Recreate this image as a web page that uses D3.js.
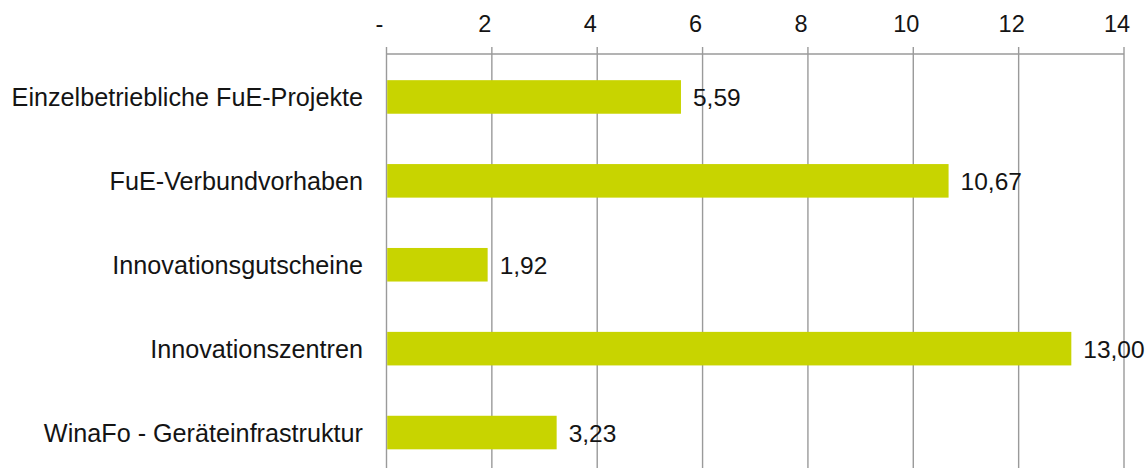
<!DOCTYPE html>
<html>
<head>
<meta charset="utf-8">
<script src="https://cdn.jsdelivr.net/npm/d3@7"></script>
<style>
  html, body { margin: 0; padding: 0; background: #ffffff; }
  svg { display: block; }
  text { font-family: "Liberation Sans", Arial, sans-serif; fill: #141414; }
</style>
</head>
<body>
<svg id="chart" width="1147" height="468"></svg>
<script>
// Förderprogramme und Werte (Mio. Euro)
const categories = [
  "Einzelbetriebliche FuE-Projekte",
  "FuE-Verbundvorhaben",
  "Innovationsgutscheine",
  "Innovationszentren",
  "WinaFo - Geräteinfrastruktur"
];
const values = [5.59, 10.67, 1.92, 13.00, 3.23];
const tickValues = [0, 2, 4, 6, 8, 10, 12, 14];
const tickLabels = ["-", "2", "4", "6", "8", "10", "12", "14"];

const svg = d3.select("#chart");
const W = 1147, H = 468;
const left = 386.5, right = 1124, axisY = 54, plotBottom = 474.5;

const x = d3.scaleLinear().domain([0, 14]).range([left, right]);
const y = d3.scaleBand()
  .domain(categories)
  .range([axisY + 1, plotBottom])
  .paddingInner(0.6)
  .paddingOuter(0.3);

const fmt = v => v.toFixed(2).replace(".", ",");
const gridColor = "#9a9a9a";

// vertical gridlines
svg.append("g")
  .selectAll("line")
  .data(tickValues)
  .join("line")
  .attr("x1", d => x(d)).attr("x2", d => x(d))
  .attr("y1", axisY - 7).attr("y2", H)
  .attr("stroke", gridColor)
  .attr("stroke-width", 1.4);

// top axis line
svg.append("line")
  .attr("x1", x(0)).attr("x2", x(14))
  .attr("y1", axisY).attr("y2", axisY)
  .attr("stroke", gridColor)
  .attr("stroke-width", 1.4);

// tick labels
svg.append("g")
  .selectAll("text")
  .data(tickValues)
  .join("text")
  .attr("x", d => x(d) - 7)
  .attr("y", 32)
  .attr("text-anchor", "middle")
  .style("font-size", "23.5px")
  .text((d, i) => tickLabels[i]);

// bars
svg.append("g")
  .selectAll("rect")
  .data(values)
  .join("rect")
  .attr("x", x(0) + 0.7)
  .attr("y", (d, i) => y(categories[i]))
  .attr("width", d => x(d) - x(0) - 0.7)
  .attr("height", y.bandwidth())
  .attr("fill", "#c8d400");

// value labels
svg.append("g")
  .selectAll("text")
  .data(values)
  .join("text")
  .attr("x", d => x(d) + 12)
  .attr("y", (d, i) => y(categories[i]) + y.bandwidth() / 2 + 9)
  .style("font-size", "24.5px")
  .text(d => fmt(d));

// category labels
svg.append("g")
  .selectAll("text")
  .data(categories)
  .join("text")
  .attr("x", 363)
  .attr("y", d => y(d) + y.bandwidth() / 2 + 9)
  .attr("text-anchor", "end")
  .style("font-size", "25.2px")
  .text(d => d);
</script>
</body>
</html>
